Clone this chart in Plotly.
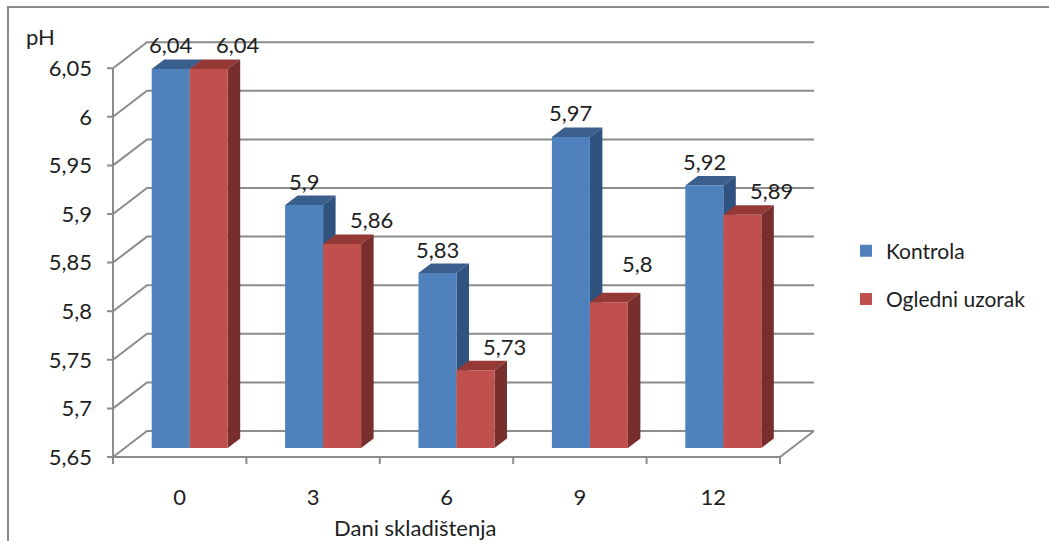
import plotly.graph_objects as go

# ---- data ---------------------------------------------------------------
days = ["0", "3", "6", "9", "12"]
kontrola = [6.04, 5.90, 5.83, 5.97, 5.92]
ogledni_uzorak = [6.04, 5.86, 5.73, 5.80, 5.89]
series_names = ["Kontrola", "Ogledni uzorak"]
y_ticks = [5.65, 5.70, 5.75, 5.80, 5.85, 5.90, 5.95, 6.00, 6.05]
x_title = "Dani skladištenja"
y_title = "pH"

# ---- page / projection geometry (pixels) -------------------------------
W, H = 1049, 541
CAT_PX = 133.4          # width of one category slot on the front floor edge
PH_PX = 972.0           # pixels per one pH unit
FRONT_LEFT = 113        # x pixel of the front value axis
FLOOR_Y = 457           # y pixel of the front floor edge (5.65)
WALL_DX, WALL_DY = 34, 26     # oblique offset of the back wall
BAR_DX, BAR_DY = 10, 9        # offset of the bar front faces
SIDE_DX, SIDE_DY = 12.5, 9.5  # bar depth
BAR_W = 38

Y0 = y_ticks[0]
n = len(days)

# plot domain in pixels (a little larger than the drawn box)
DOM_L, DOM_R = 93, FRONT_LEFT + n * CAT_PX + WALL_DX + 8
DOM_T, DOM_B = 28, 470
ml, mr, mt, mb = DOM_L, W - DOM_R, DOM_T, H - DOM_B

x_lo = -0.5 - (FRONT_LEFT - DOM_L) / CAT_PX
x_hi = -0.5 + (DOM_R - FRONT_LEFT) / CAT_PX
y_lo = Y0 - (DOM_B - FLOOR_Y) / PH_PX
y_hi = Y0 + (FLOOR_Y - DOM_T) / PH_PX


def ux(px):
    return px / CAT_PX


def uy(px):
    return px / PH_PX


def paper_x(px):
    return (px - DOM_L) / (DOM_R - DOM_L)


def paper_y(py):
    return (DOM_B - py) / (DOM_B - DOM_T)


def fmt(v):
    return f"{v:g}".replace(".", ",")


GRID = "#8c8c8c"
TEXT = "#1e1e1e"
FONT = "Lato"
FS = 22

BLUE = dict(front="#4f81bd", top="#3a5f8c", side="#30527e")
RED = dict(front="#c0504d", top="#943936", side="#772e2c")

shapes = []

# back wall grid lines with their diagonal on the left side wall
x_front = -0.5
x_back = -0.5 + ux(WALL_DX)
x_back_end = 4.5 + ux(WALL_DX)
for v in y_ticks:
    shapes.append(dict(
        type="path", layer="below", xref="x", yref="y",
        path=f"M{x_front - ux(6)},{v} L{x_front},{v} L{x_back},{v + uy(WALL_DY)} L{x_back_end},{v + uy(WALL_DY)}",
        line=dict(color=GRID, width=2)))

# front value axis
shapes.append(dict(type="line", layer="below", xref="x", yref="y",
                   x0=x_front, x1=x_front, y0=Y0, y1=y_ticks[-1],
                   line=dict(color=GRID, width=2)))

# floor front edge, right edge and category ticks
shapes.append(dict(
    type="path", layer="below", xref="x", yref="y",
    path=f"M{x_front},{Y0} L{4.5},{Y0} L{x_back_end},{Y0 + uy(WALL_DY)}",
    line=dict(color=GRID, width=2)))
for k in range(n + 1):
    xb = -0.5 + k
    shapes.append(dict(type="line", layer="below", xref="x", yref="y",
                       x0=xb, x1=xb, y0=Y0, y1=Y0 - uy(7),
                       line=dict(color=GRID, width=2)))

# 3-D top and side faces of every bar
bar_base = Y0 + uy(BAR_DY)
sx, sy = ux(SIDE_DX), uy(SIDE_DY)
for i in range(n):
    xc = i + ux(BAR_DX)
    for vals, col, left in ((kontrola, BLUE, xc - ux(BAR_W)), (ogledni_uzorak, RED, xc)):
        top = vals[i] + uy(BAR_DY)
        xl, xr = left, left + ux(BAR_W)
        shapes.append(dict(
            type="path", layer="below", xref="x", yref="y",
            path=f"M{xl},{top} L{xr},{top} L{xr + sx},{top + sy} L{xl + sx},{top + sy} Z",
            fillcolor=col["top"], line=dict(width=0)))
        shapes.append(dict(
            type="path", layer="below", xref="x", yref="y",
            path=f"M{xr},{bar_base} L{xr},{top} L{xr + sx},{top + sy} L{xr + sx},{bar_base + sy} Z",
            fillcolor=col["side"], line=dict(width=0)))

# outer chart border
shapes.append(dict(type="rect", xref="paper", yref="paper",
                   x0=paper_x(8), x1=paper_x(W + 20), y0=paper_y(H + 20), y1=paper_y(7),
                   line=dict(color="#8a8a8a", width=2), fillcolor="rgba(0,0,0,0)"))

fig = go.Figure()
x_pos = [i + ux(BAR_DX) for i in range(n)]
for name, vals, col, off in ((series_names[0], kontrola, BLUE, -ux(BAR_W)),
                             (series_names[1], ogledni_uzorak, RED, 0.0)):
    fig.add_trace(go.Bar(
        name=name, legendgroup=name,
        x=x_pos, y=[v - Y0 for v in vals], base=[bar_base] * n,
        offset=off, width=ux(BAR_W),
        marker=dict(color=col["front"], line=dict(width=0)),
        hovertext=[fmt(v) for v in vals], hoverinfo="text+name",
    ))

# value labels above the bars
annotations = []
red_label_lift = {3: 15}
for i in range(n):
    xc = i + ux(BAR_DX)
    annotations.append(dict(
        x=xc - ux(BAR_W) / 2, y=kontrola[i] + uy(BAR_DY), xref="x", yref="y",
        text=fmt(kontrola[i]), showarrow=False, yshift=24,
        xanchor="center", yanchor="middle",
        font=dict(family=FONT, size=FS, color=TEXT)))
    annotations.append(dict(
        x=xc + ux(BAR_W) / 2, y=ogledni_uzorak[i] + uy(BAR_DY), xref="x", yref="y",
        text=fmt(ogledni_uzorak[i]), showarrow=False,
        yshift=24 + red_label_lift.get(i, 0), xshift=29,
        xanchor="center", yanchor="middle",
        font=dict(family=FONT, size=FS, color=TEXT)))

annotations.append(dict(x=paper_x(40), y=paper_y(36), xref="paper", yref="paper",
                        text=y_title, showarrow=False, xanchor="center", yanchor="middle",
                        font=dict(family=FONT, size=FS, color=TEXT)))
annotations.append(dict(x=paper_x(415), y=paper_y(527), xref="paper", yref="paper",
                        text=x_title, showarrow=False, xanchor="center", yanchor="middle",
                        font=dict(family=FONT, size=FS, color=TEXT)))

fig.update_layout(
    width=W, height=H,
    margin=dict(l=ml, r=mr, t=mt, b=mb, pad=0),
    paper_bgcolor="white", plot_bgcolor="white",
    barmode="overlay",
    separators=",.",
    font=dict(family=FONT, size=FS, color=TEXT),
    shapes=shapes, annotations=annotations,
    showlegend=True,
    legend=dict(x=paper_x(846), y=paper_y(275), xanchor="left", yanchor="middle",
                font=dict(family=FONT, size=FS - 1, color=TEXT),
                tracegroupgap=18, bgcolor="rgba(0,0,0,0)"),
    xaxis=dict(range=[x_lo, x_hi], tickmode="array",
               tickvals=list(range(n)), ticktext=days,
               showgrid=False, zeroline=False, showline=False, ticks="",
               ticklabelstandoff=12, fixedrange=True),
    yaxis=dict(range=[y_lo, y_hi], tickmode="array",
               tickvals=y_ticks, ticktext=[fmt(v) for v in y_ticks],
               showgrid=False, zeroline=False, showline=False, ticks="",
               ticklabelstandoff=0, fixedrange=True),
)

fig.write_html("out.html")
